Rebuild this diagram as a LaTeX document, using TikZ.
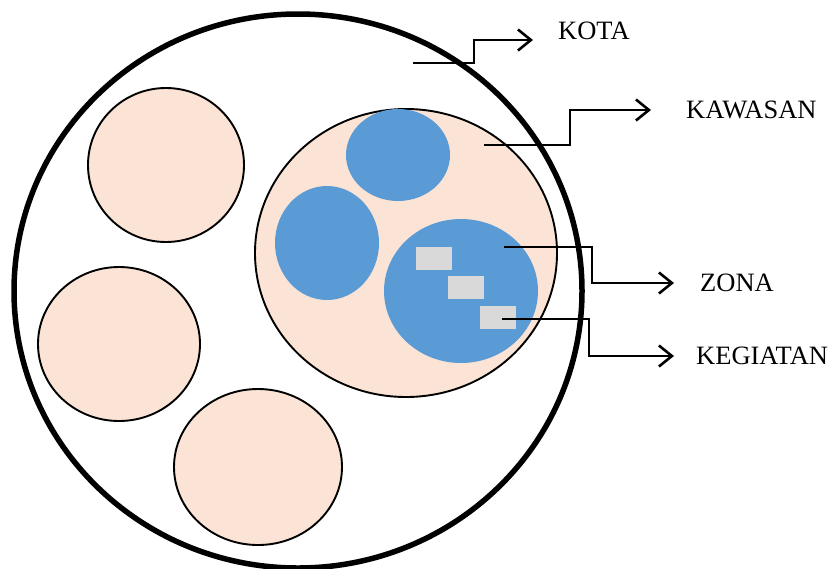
\documentclass[tikz,border=0pt]{standalone}
\usepackage{fontspec}
\setmainfont{Liberation Serif}
\usetikzlibrary{arrows.meta}
\definecolor{peach}{HTML}{FBE4D5}
\definecolor{zonablue}{HTML}{5B9BD5}
\definecolor{lightgrey}{HTML}{D9D9D9}
\tikzset{
  kotaline/.style={line width=5.5pt},
  area/.style={draw, line width=1.9pt, fill=peach},
  zone/.style={fill=zonablue},
  activity/.style={fill=lightgrey},
  pointer/.style={line width=2.6pt, -{Straight Barb[length=13pt,width=21pt]}},
  lbl/.style={anchor=west, inner sep=0pt, font=\fontsize{26.5}{30}\selectfont}
}
\begin{document}
\begin{tikzpicture}[x=1pt,y=-1pt]
    \useasboundingbox (0,0) rectangle (834,568);
    % kota
    \draw[kotaline] (298,291) ellipse [x radius=284, y radius=277];
    % kawasan lain
    \draw[area] (166,165) ellipse [x radius=78, y radius=77];
    \draw[area] (119,344) ellipse [x radius=81, y radius=77];
    \draw[area] (258,467) ellipse [x radius=84, y radius=78];
    % kawasan
    \draw[area] (406,253) ellipse [x radius=151, y radius=144];
    % zona
    \fill[zone] (398,155) ellipse [x radius=52, y radius=46];
    \fill[zone] (327,243) ellipse [x radius=52, y radius=57];
    \fill[zone] (461,291) ellipse [x radius=77, y radius=72];
    % kegiatan
    \fill[activity] (416,247) rectangle +(36,23);
    \fill[activity] (448,276) rectangle +(36,23);
    \fill[activity] (480,306) rectangle +(36,23);
    % keterangan
    \coordinate (kotaS) at (413,63);
    \coordinate (kawasanS) at (484,145);
    \coordinate (zonaS) at (504,247);
    \coordinate (kegiatanS) at (502,319);
    \node[lbl] (kota) at (558,31) {KOTA};
    \node[lbl] (kawasan) at (686,110) {KAWASAN};
    \node[lbl] (zona) at (700,283) {ZONA};
    \node[lbl] (kegiatan) at (696,356) {KEGIATAN};
    \draw[pointer] (kotaS) -- ++(61,0) |- ([xshift=-25pt,yshift=-9pt]kota.west);
    \draw[pointer] (kawasanS) -- ++(86,0) |- ([xshift=-35pt]kawasan.west);
    \draw[pointer] (zonaS) -- ++(88,0) |- ([xshift=-26pt]zona.west);
    \draw[pointer] (kegiatanS) -- ++(87,0) |- ([xshift=-22pt]kegiatan.west);
\end{tikzpicture}
\end{document}
